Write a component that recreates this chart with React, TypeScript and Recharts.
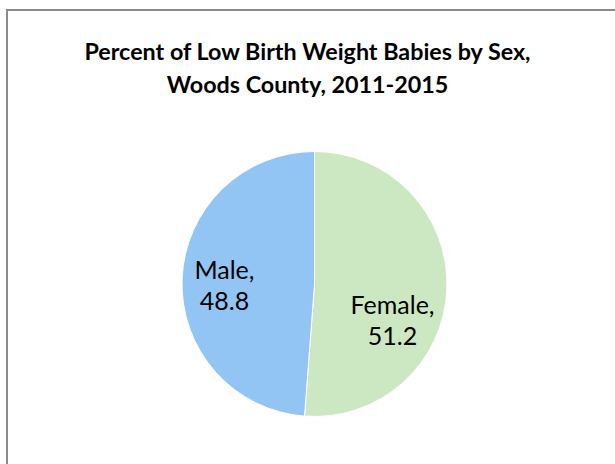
import React from 'react';
import { PieChart, Pie, Cell } from 'recharts';

const sexes = ['Female', 'Male'];
const percents = [51.2, 48.8];
const titleLines = ['Percent of Low Birth Weight Babies by Sex,', 'Woods County, 2011-2015'];

const COLORS = ['#cce8c3', '#93c5f4'];
// label nudges (px) relative to the slice's mid-angle anchor
const LABEL_NUDGE = [
  { dx: -12, dy: 35 },
  { dx: 0, dy: 6 },
];

const data = sexes.map((name, i) => ({ name, value: percents[i] }));

const RADIAN = Math.PI / 180;

const renderLabel = (props: any) => {
  const { cx, cy, midAngle, outerRadius, index, name, value } = props;
  const r = outerRadius * 0.68;
  const x = cx + r * Math.cos(-midAngle * RADIAN) + LABEL_NUDGE[index].dx;
  const y = cy + r * Math.sin(-midAngle * RADIAN) + LABEL_NUDGE[index].dy;
  return (
    <text
      x={x}
      y={y}
      textAnchor="middle"
      fill="#000"
      fontFamily="Lato, 'Open Sans', sans-serif"
      fontSize={25}
    >
      <tspan x={x} dy={-8}>{`${name},`}</tspan>
      <tspan x={x} dy={31}>{value.toFixed(1)}</tspan>
    </text>
  );
};

export default function App() {
  return (
    <div
      style={{
        position: 'fixed',
        left: 0,
        top: 0,
        width: 615,
        height: 464,
        overflow: 'hidden',
        background: '#fff',
      }}
    >
      <div
        style={{
          position: 'absolute',
          left: 6,
          top: 9,
          width: 700,
          height: 600,
          border: '2px solid #8c8c8c',
          boxSizing: 'border-box',
        }}
      />
      <div
        style={{
          position: 'absolute',
          left: 0,
          top: 35,
          width: 615,
          textAlign: 'center',
          fontFamily: "Lato, 'Open Sans', sans-serif",
          fontWeight: 700,
          fontSize: 23.3,
          lineHeight: '33px',
          color: '#000',
        }}
      >
        {titleLines.map((t) => (
          <div key={t}>{t}</div>
        ))}
      </div>
      <div style={{ position: 'absolute', left: 0, top: 0 }}>
        <PieChart width={615} height={464} margin={{ top: 0, right: 0, bottom: 0, left: 0 }}>
          <Pie
            data={data}
            dataKey="value"
            nameKey="name"
            cx={314.5}
            cy={284}
            outerRadius={132.5}
            startAngle={90}
            endAngle={-270}
            stroke="#ffffff"
            strokeWidth={1}
            label={renderLabel}
            labelLine={false}
            isAnimationActive={false}
          >
            {data.map((d, i) => (
              <Cell key={d.name} fill={COLORS[i]} />
            ))}
          </Pie>
        </PieChart>
      </div>
    </div>
  );
}
